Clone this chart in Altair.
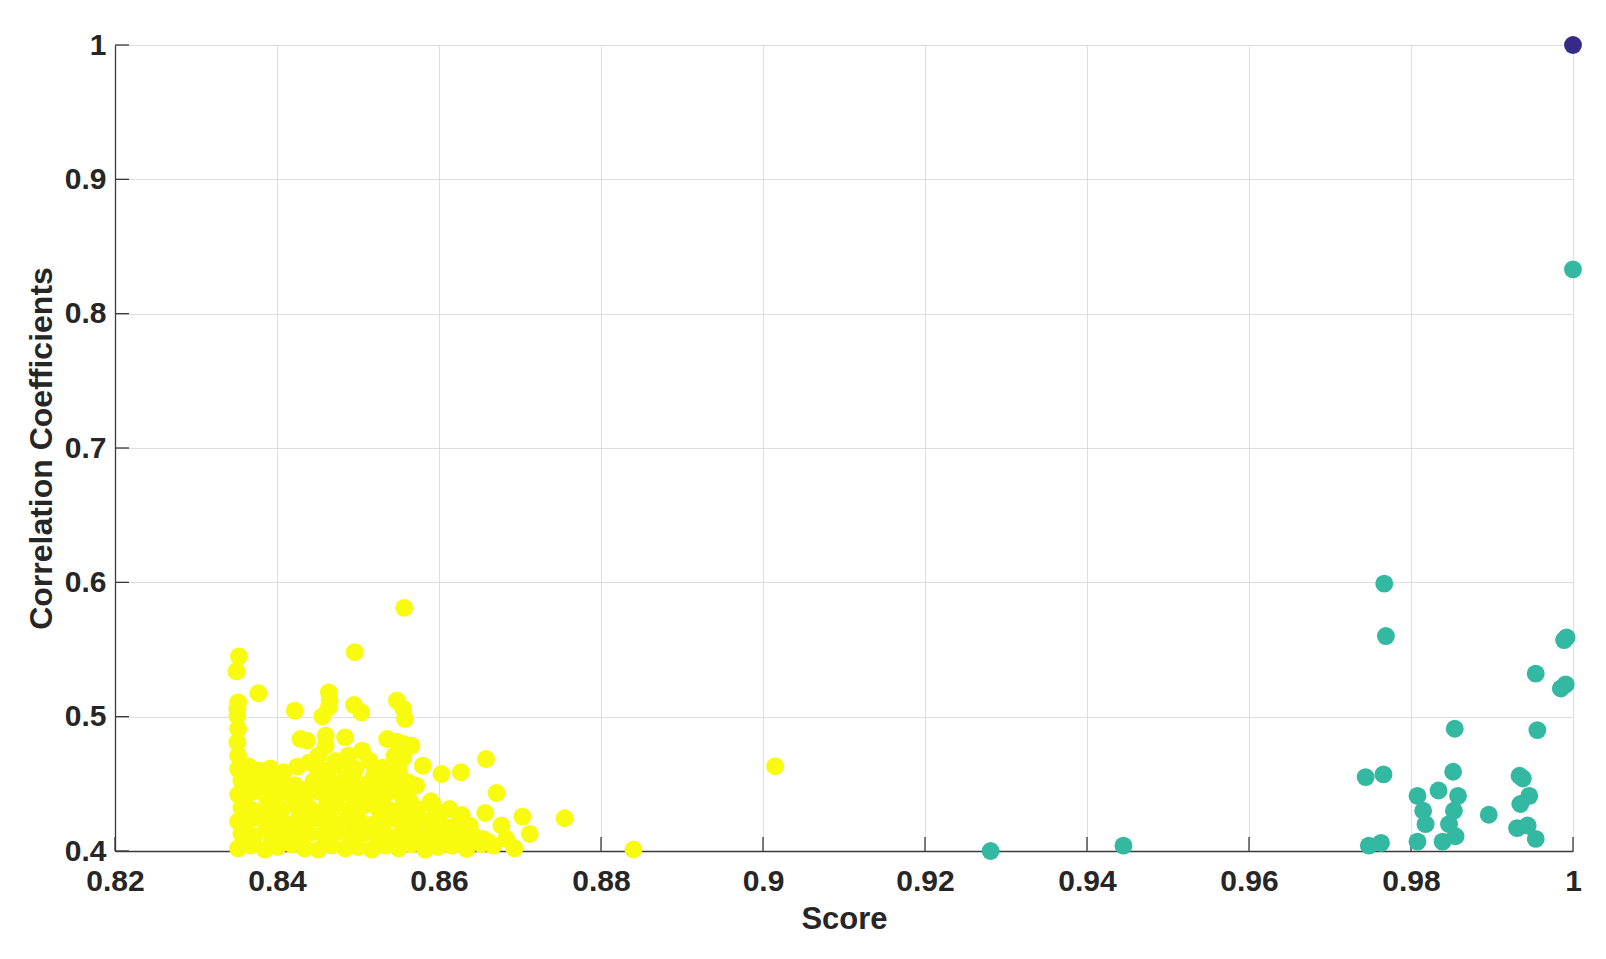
import altair as alt
import pandas as pd

# ---------------- data ----------------
# cluster 3 (yellow), listed row by row
yellow_score = [
    0.8352, 0.8368, 0.8385, 0.8401, 0.8418, 0.8434, 0.8451, 0.8467, 0.8484, 0.8500, 0.8517, 0.8533, 0.8550, 0.8566, 0.8583, 0.8599, 0.8616, 0.8634, 0.8652, 0.8667, 0.8693,
    0.8360, 0.8394, 0.8428, 0.8462, 0.8496, 0.8530, 0.8564, 0.8598, 0.8632, 0.8660,
    0.8356, 0.8372, 0.8390, 0.8406, 0.8423, 0.8440, 0.8457, 0.8473, 0.8490, 0.8507, 0.8523, 0.8540, 0.8557, 0.8573, 0.8590, 0.8607, 0.8624, 0.8642, 0.8654, 0.8683, 0.8712,
    0.8360, 0.8394, 0.8428, 0.8462, 0.8496, 0.8530, 0.8564, 0.8598, 0.8630,
    0.8352, 0.8368, 0.8385, 0.8402, 0.8419, 0.8436, 0.8452, 0.8469, 0.8486, 0.8502, 0.8519, 0.8536, 0.8552, 0.8569, 0.8586, 0.8603, 0.8621, 0.8638, 0.8677,
    0.8360, 0.8394, 0.8428, 0.8462, 0.8496, 0.8530, 0.8564, 0.8598,
    0.8356, 0.8373, 0.8390, 0.8406, 0.8423, 0.8440, 0.8457, 0.8474, 0.8490, 0.8507, 0.8524, 0.8541, 0.8557, 0.8574, 0.8593, 0.8613, 0.8628, 0.8657, 0.8703,
    0.8360, 0.8394, 0.8428, 0.8462, 0.8496, 0.8530, 0.8564, 0.8590,
    0.8352, 0.8369, 0.8386, 0.8403, 0.8420, 0.8437, 0.8453, 0.8470, 0.8487, 0.8503, 0.8520, 0.8537, 0.8554, 0.8572, 0.8671,
    0.8360, 0.8394, 0.8428, 0.8462, 0.8496, 0.8530, 0.8556,
    0.8356, 0.8373, 0.8390, 0.8407, 0.8422, 0.8445, 0.8461, 0.8478, 0.8495, 0.8512, 0.8529, 0.8546, 0.8562,
    0.8360, 0.8385, 0.8455, 0.8490, 0.8520, 0.8552,
    0.8352, 0.8365, 0.8378, 0.8392, 0.8408, 0.8425, 0.8449, 0.8463, 0.8480, 0.8497, 0.8514, 0.8530, 0.8550, 0.8580, 0.8603, 0.8627,
    0.8352, 0.8351, 0.8352, 0.8351, 0.8352, 0.8351, 0.8451, 0.8460, 0.8460, 0.8429, 0.8437, 0.8484, 0.8488, 0.8505, 0.8536, 0.8548, 0.8556, 0.8566, 0.8556, 0.8545, 0.8472, 0.8440,
    0.8353, 0.8350, 0.8377, 0.8464, 0.8465, 0.8464, 0.8456, 0.8422, 0.8495, 0.8504, 0.8548, 0.8556, 0.8558, 0.8496, 0.8557,
    0.8658, 0.8755, 0.8840, 0.9015,
]
yellow_corr = [
    0.402, 0.404, 0.401, 0.403, 0.405, 0.402, 0.401, 0.404, 0.402, 0.403, 0.401, 0.404, 0.402, 0.405, 0.401, 0.403, 0.404, 0.4015, 0.405, 0.404, 0.402,
    0.407, 0.408, 0.406, 0.408, 0.407, 0.406, 0.408, 0.407, 0.406, 0.407,
    0.413, 0.411, 0.414, 0.412, 0.410, 0.413, 0.412, 0.414, 0.411, 0.413, 0.412, 0.410, 0.414, 0.412, 0.411, 0.413, 0.411, 0.4115, 0.409, 0.409, 0.4127,
    0.417, 0.418, 0.416, 0.417, 0.418, 0.416, 0.417, 0.418, 0.416,
    0.422, 0.424, 0.421, 0.423, 0.420, 0.422, 0.424, 0.421, 0.423, 0.422, 0.420, 0.424, 0.421, 0.423, 0.422, 0.420, 0.419, 0.4189, 0.419,
    0.427, 0.428, 0.426, 0.427, 0.428, 0.426, 0.427, 0.426,
    0.432, 0.430, 0.433, 0.431, 0.434, 0.432, 0.430, 0.433, 0.431, 0.434, 0.432, 0.430, 0.433, 0.431, 0.4338, 0.4313, 0.4268, 0.4283, 0.4256,
    0.437, 0.438, 0.436, 0.437, 0.438, 0.436, 0.437, 0.437,
    0.442, 0.444, 0.441, 0.443, 0.440, 0.442, 0.444, 0.441, 0.443, 0.442, 0.440, 0.444, 0.441, 0.4487, 0.4432,
    0.447, 0.448, 0.446, 0.447, 0.448, 0.446, 0.447,
    0.452, 0.450, 0.453, 0.451, 0.449, 0.452, 0.454, 0.451, 0.453, 0.450, 0.452, 0.454, 0.451,
    0.457, 0.456, 0.457, 0.458, 0.457, 0.456,
    0.461, 0.463, 0.460, 0.4615, 0.4586, 0.4628, 0.462, 0.460, 0.463, 0.461, 0.4673, 0.462, 0.4623, 0.4635, 0.4573, 0.4586,
    0.471, 0.481, 0.491, 0.5007, 0.5107, 0.5057, 0.471, 0.4784, 0.4859, 0.4834, 0.4821, 0.4846, 0.471, 0.4747, 0.4834, 0.4814, 0.4797, 0.4784, 0.4697, 0.4710, 0.4670, 0.4660,
    0.5449, 0.5337, 0.5174, 0.5181, 0.5119, 0.507, 0.5002, 0.5045, 0.5087, 0.5032, 0.5119, 0.5057, 0.4983, 0.548, 0.581,
    0.4685, 0.4244, 0.4011, 0.4631,
]

# cluster 2 (teal)
teal_score = [0.9281, 0.9445, 0.9744, 0.9766, 0.9767, 0.9769, 0.9748, 0.9763, 0.9808, 0.9815,
              0.9818, 0.9808, 0.9834, 0.9847, 0.9852, 0.9854, 0.9858, 0.9853, 0.9855, 0.9839,
              0.9896, 0.9934, 0.9938, 0.9946, 0.9935, 0.9931, 0.9944, 0.9954, 0.9954, 0.9956,
              0.9985, 0.9991, 0.9989, 0.9992, 1.0]
teal_corr = [0.400, 0.404, 0.455, 0.457, 0.599, 0.560, 0.404, 0.406, 0.441, 0.430,
             0.420, 0.407, 0.445, 0.420, 0.459, 0.491, 0.441, 0.430, 0.411, 0.407,
             0.427, 0.456, 0.454, 0.441, 0.435, 0.417, 0.419, 0.409, 0.532, 0.490,
             0.521, 0.524, 0.557, 0.559, 0.833]

# cluster 1 (dark blue)
blue_score = [1.0]
blue_corr = [1.0]

x_ticks = [0.82, 0.84, 0.86, 0.88, 0.90, 0.92, 0.94, 0.96, 0.98, 1.0]
y_ticks = [0.4, 0.5, 0.6, 0.7, 0.8, 0.9, 1.0]

groups = ["c3", "c2", "c1"]
colors = ["#f9fb0e", "#33b8a1", "#352a87"]

df = pd.DataFrame({
    "score": yellow_score + teal_score + blue_score,
    "corr": yellow_corr + teal_corr + blue_corr,
    "group": ["c3"] * len(yellow_score) + ["c2"] * len(teal_score) + ["c1"] * len(blue_score),
})
df["idx"] = range(len(df))

W, H = 1458, 806
FONT = "Liberation Sans"
TXT = "#262626"
AX = "#3a3a3a"

xs = alt.Scale(domain=[0.82, 1.0], nice=False, zero=False)
ys = alt.Scale(domain=[0.4, 1.0], nice=False, zero=False)

x_axis = alt.Axis(
    values=x_ticks, format=".2~f", grid=True, gridColor="#dedede", gridWidth=1,
    domainColor=AX, domainWidth=1.3, ticks=False, tickSize=0,
    labelFont=FONT, labelFontSize=30, labelFontWeight="bold", labelColor=TXT,
    labelPadding=15, labelFlush=False, labelOverlap=False,
    title="Score", titleFont=FONT, titleFontSize=31, titleFontWeight="bold",
    titleColor=TXT, titleX=W / 2, titleY=77, titleBaseline="alphabetic", titleAlign="center",
)
y_axis = alt.Axis(
    values=y_ticks, format=".1~f", grid=True, gridColor="#dedede", gridWidth=1,
    domainColor=AX, domainWidth=1.3, ticks=False, tickSize=0,
    labelFont=FONT, labelFontSize=30, labelFontWeight="bold", labelColor=TXT,
    labelPadding=9, labelFlush=False, labelOverlap=False,
    title="Correlation Coefficients", titleFont=FONT, titleFontSize=32, titleFontWeight="bold",
    titleColor=TXT, titleX=-64, titleY=H / 2, titleAngle=270, titleBaseline="alphabetic",
    titleAlign="center",
)

points = alt.Chart(df).mark_circle(size=320, opacity=1).encode(
    x=alt.X("score:Q", scale=xs, axis=x_axis),
    y=alt.Y("corr:Q", scale=ys, axis=y_axis),
    color=alt.Color("group:N", scale=alt.Scale(domain=groups, range=colors), legend=None),
    order=alt.Order("idx:Q"),
)

xt = alt.Chart(pd.DataFrame({"score": x_ticks})).mark_rule(color=AX, strokeWidth=1.3).encode(
    x=alt.X("score:Q", scale=xs, axis=x_axis),
    y=alt.value(H), y2=alt.value(H - 14),
)
yt = alt.Chart(pd.DataFrame({"corr": y_ticks})).mark_rule(color=AX, strokeWidth=1.3).encode(
    y=alt.Y("corr:Q", scale=ys, axis=y_axis),
    x=alt.value(0), x2=alt.value(14),
)

chart = alt.layer(xt, yt, points).properties(
    width=W, height=H,
    autosize=alt.AutoSizeParams(type="none"),
    padding={"left": 107, "top": 37, "right": 25, "bottom": 95},
    background="white",
).configure_view(stroke=None)

chart.save("out.html", embed_options={"renderer": "svg", "actions": False})
